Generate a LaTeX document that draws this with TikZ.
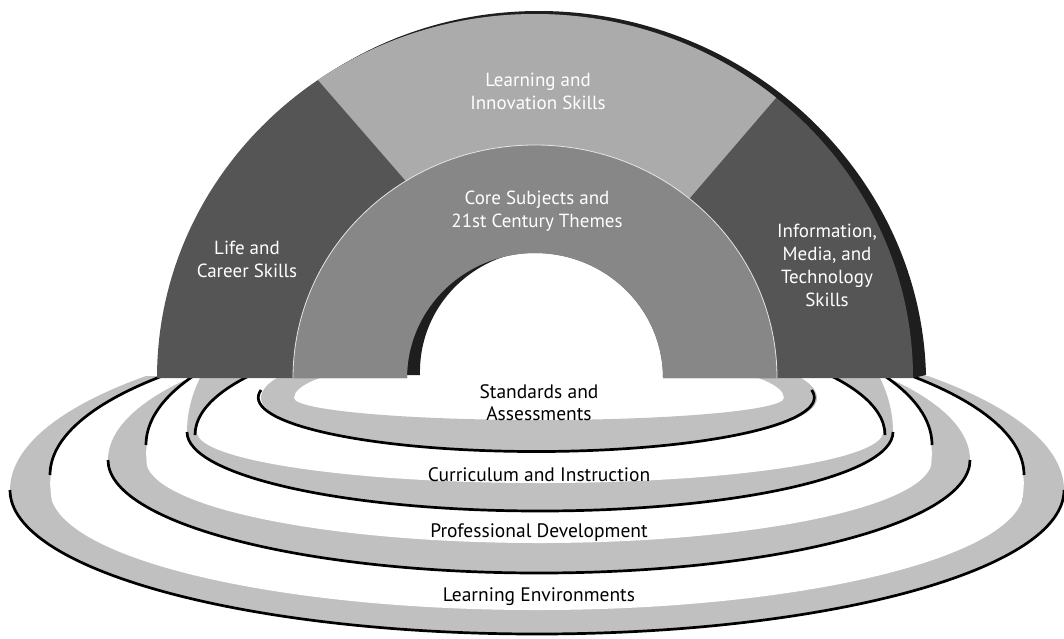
\documentclass[tikz,border=0pt]{standalone}
\usepackage{fontspec}
\setmainfont{PT Sans}
\definecolor{darkseg}{HTML}{555555}
\definecolor{lightseg}{HTML}{ABABAB}
\definecolor{coreseg}{HTML}{878787}
\definecolor{extr}{HTML}{1E1E1E}
\definecolor{bandgray}{HTML}{C0C0C0}
% closed ellipse with different upper / lower half heights: cx, cy, a, btop, bbot
\newcommand\ringpath[5]{(#1-#3,#2) arc[start angle=180,end angle=360,x radius=#3,y radius=#4] arc[start angle=0,end angle=180,x radius=#3,y radius=#5] -- cycle}
\begin{document}
\begin{tikzpicture}[x=1pt,y=-1pt,
  rimline/.style={draw=black,line width=2.7pt},
  ringtext/.style={font=\fontsize{19.5}{22}\selectfont,align=center,inner sep=0pt,text=black},
  archtext/.style={font=\fontsize{19}{23}\selectfont,align=center,inner sep=0pt,text=white}]
\useasboundingbox (0,0) rectangle (1064,638);
% ---------------- rings ----------------
\begin{scope}
\clip (0,376) rectangle (1064,638);
% ring 4 : Learning Environments
\fill[bandgray] \ringpath{537}{490}{527}{170}{144};
\begin{scope}
\clip \ringpath{537}{475}{487}{155}{300};
\fill[white] \ringpath{537}{490}{487}{260}{120};
\end{scope}
\draw[rimline] (50,475) arc[start angle=180,end angle=360,x radius=487,y radius=155];
\draw[rimline] (10,490) arc[start angle=180,end angle=0,x radius=527,y radius=144];
% ring 3 : Professional Development
\fill[bandgray] \ringpath{539}{460}{431}{140}{113};
\begin{scope}
\clip \ringpath{539}{445}{393}{145}{300};
\fill[white] \ringpath{539}{460}{393}{250}{83};
\end{scope}
\draw[rimline] (146,445) arc[start angle=180,end angle=360,x radius=393,y radius=145];
\draw[rimline] (108,460) arc[start angle=180,end angle=0,x radius=431,y radius=113];
% ring 2 : Curriculum and Instruction
\fill[bandgray] \ringpath{540}{432}{353}{200}{79};
\begin{scope}
\clip \ringpath{540}{435}{345}{110}{300};
\fill[white] \ringpath{540}{432}{343}{300}{51};
\end{scope}
\draw[rimline] (195,435) arc[start angle=180,end angle=360,x radius=345,y radius=110];
\draw[rimline] (187,432) arc[start angle=180,end angle=0,x radius=353,y radius=79];
% ring 1 : Standards and Assessments
\fill[white] \ringpath{539}{398}{278}{60}{54};
\fill[bandgray,even odd rule] \ringpath{539}{398}{278}{60}{54} \ringpath{539}{398}{245}{45}{22};
\draw[rimline] (261,390) arc[start angle=188,end angle=-8,x radius=278,y radius=54];
\end{scope}
% ---------------- arch extrusion (slight perspective shear) ----------------
\begin{scope}[cm={1,0,-0.025,1,(3.55pt,3pt)}]
\fill[extr] (157,378) arc[start angle=180,end angle=360,x radius=378,y radius=364] -- (663,378) arc[start angle=360,end angle=180,x radius=128,y radius=125] -- cycle;
\end{scope}
\fill[extr] (913,378) -- (926,375) -- (913,372) -- cycle;
% ---------------- arch front ----------------
\fill[darkseg] (157,378) arc[start angle=180,end angle=360,x radius=378,y radius=364] -- (663,378) arc[start angle=360,end angle=180,x radius=128,y radius=125] -- cycle;
\begin{scope}
\clip (157,378) arc[start angle=180,end angle=360,x radius=378,y radius=364] -- cycle;
\fill[lightseg] (425,203) -- (231,-20) -- (879,-22) -- (677,213) -- cycle;
\end{scope}
\fill[coreseg] (293,378) arc[start angle=180,end angle=360,x radius=242,y radius=233] -- (663,378) arc[start angle=360,end angle=180,x radius=128,y radius=125] -- cycle;
\draw[white!80!gray,line width=0.8pt] (293,378) arc[start angle=180,end angle=360,x radius=242,y radius=233];
% ---------------- texts ----------------
\node[archtext] (lis) at (538,91) {Learning and\\Innovation Skills};
\node[archtext] (core) at (537,211) {Core Subjects and\\21st Century Themes};
\node[archtext] (life) at (247,259) {Life and\\Career Skills};
\node[archtext] (imt) at (827,265) {Information,\\Media, and\\Technology\\Skills};
\node[ringtext] (sa) at (539,403) {Standards and\\Assessments};
\node[ringtext] (ci) at (539,475) {Curriculum and Instruction};
\node[ringtext] (pd) at (539,533) {Professional Development};
\node[ringtext] (le) at (539,597) {Learning Environments};
\end{tikzpicture}
\end{document}
